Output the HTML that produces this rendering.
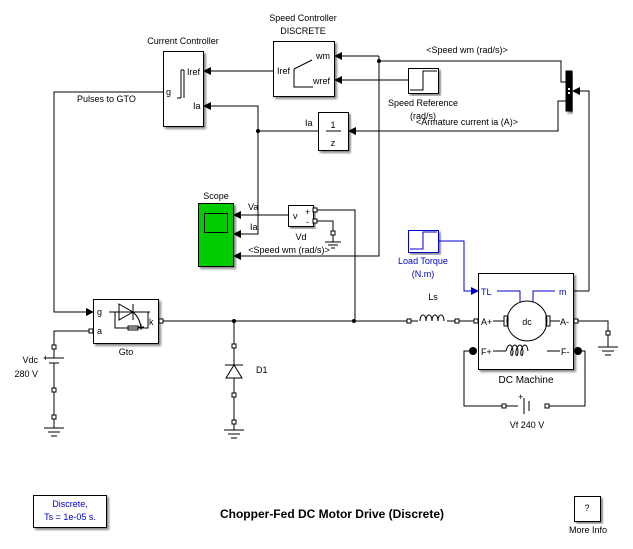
<!DOCTYPE html>
<html><head><meta charset="utf-8"><style>
html,body{margin:0;padding:0;background:#fff;}
svg{display:block;font-family:"Liberation Sans",Arial,sans-serif;font-size:9px;}
</style></head><body>
<svg width="633" height="549" viewBox="0 0 633 549" xmlns="http://www.w3.org/2000/svg">
<defs>
<marker id="a" markerWidth="8" markerHeight="8" refX="7" refY="4" orient="auto" markerUnits="userSpaceOnUse"><path d="M0,0 L8,4 L0,8 z" fill="#000"/></marker>
<marker id="ab" markerWidth="8" markerHeight="8" refX="7" refY="4" orient="auto" markerUnits="userSpaceOnUse"><path d="M0,0 L8,4 L0,8 z" fill="#00c"/></marker>
<filter id="sh"><feDropShadow dx="2" dy="2" stdDeviation="1" flood-color="#888"/></filter>
</defs>
<g fill="none" stroke="#000" stroke-width="1">
<rect x="163.5" y="51.5" width="40" height="75" fill="#fff" filter="url(#sh)"/>
<rect x="273.5" y="41.5" width="61" height="55" fill="#fff" filter="url(#sh)"/>
<rect x="318.5" y="112.5" width="30" height="38" fill="#fff" filter="url(#sh)"/>
<rect x="408.5" y="68.5" width="30" height="25" fill="#fff" filter="url(#sh)"/>
<rect x="566" y="71" width="6" height="40" fill="#000" filter="url(#sh)"/>
<rect x="198.5" y="203.5" width="35" height="63" fill="#00cc00" filter="url(#sh)"/>
<rect x="204.5" y="213.5" width="23" height="19" fill="#00cc00"/>
<rect x="288.5" y="205.5" width="25" height="21" fill="#fff" filter="url(#sh)"/>
<rect x="93.5" y="299.5" width="65" height="44" fill="#fff" filter="url(#sh)"/>
<rect x="478.5" y="273.5" width="95" height="96" fill="#fff" filter="url(#sh)"/>
<rect x="408.5" y="230.5" width="30" height="22" stroke="#00c" fill="#fff" filter="url(#sh)"/>
<rect x="33.5" y="495.5" width="73" height="32" fill="#fff" filter="url(#sh)"/>
<rect x="574.5" y="496.5" width="26" height="25" fill="#fff" filter="url(#sh)"/>
<path d="M181,70 V98 M181,70 H184 M181,98 H177 M184,70 V98" />
<path d="M294,69 L312,60 M294,69 V87 H313"/>
<path d="M326,131 H341"/>
<path d="M410,90 H423 V71 H437"/>
<path d="M410,249 H423 V232 H437" stroke="#00c"/>
<rect x="568" y="88" width="2" height="2" fill="#fff" stroke="none"/><rect x="568" y="92" width="2" height="2" fill="#fff" stroke="none"/>
<path d="M109,312 H150 M119,304 L133,312 L119,320 z M133,304 V320 M115,312 V328 H148 V312 M128,330 h10 v-4 h-10 z M133,312 Q140,318 141,328 M138,327 h6 M141,324 v6"/>
<path d="M273,71 H204" marker-end="url(#a)"/>
<path d="M379,56 H335" marker-end="url(#a)"/>
<path d="M408,80 H335" marker-end="url(#a)"/>
<path d="M318,131 H258 V106 H204" marker-end="url(#a)"/>
<path d="M379,56 V256 H234" marker-end="url(#a)"/>
<path d="M379,61 H561 V82 H566" />
<path d="M566,101 H558 V131 H349" marker-end="url(#a)"/>
<path d="M589,291 V91 H573" marker-end="url(#a)"/>
<path d="M573,291 H589"/>
<path d="M258,131 V234 H234" marker-end="url(#a)"/>
<path d="M288,215 H234" marker-end="url(#a)"/>
<path d="M163,92 H54 V312 H93" marker-end="url(#a)"/>
<path d="M438,241 H464 V291 H478" stroke="#00c" marker-end="url(#ab)"/>
<path d="M161,321 H418 M447,321 H478"/>
<path d="M316,210 H355 V321"/>
<path d="M316,221 H333 V233 M325,242 h16 M328,245 h10 M331,248 h4 M333,233 V242"/>
<path d="M93,331 H54 V358 M44,358 h20 M49,363 h10 M54,363 V428 M44,428 h20 M48,432 h12 M51,436 h6"/>
<path d="M234,321 V365 M225,365 h18 M226,378 h16 L234,365 z M234,378 V430 M224,430 h20 M228,434 h12 M231,438 h6"/>
<path d="M573,321 H608 V347 M598,347 h20 M602,351 h12 M605,355 h6"/>
<path d="M473,351 H464 V406 H518 M545,406 H585 V351 H578 M524,398 V414 M529,401 V411"/>
<path d="M420,321 c0,-8 6,-8 6,0 c0,-8 6,-8 6,0 c0,-8 6,-8 6,0 c0,-8 6,-8 6,0"/>
<path d="M497,291 H520 V302 M533,302 V291 H555" stroke="#00c"/>
<circle cx="527" cy="321" r="20" fill="#fff"/>
<rect x="504" y="316" width="4" height="10"/><rect x="546" y="316" width="4" height="10"/>
<path d="M493,321 H504 M550,321 H560 M493,351 H506 M547,351 H560 M506,351 c2,-8 6,-8 7,0 c0,6 -3,6 -2,0 c2,-8 6,-8 7,0 c0,6 -3,6 -2,0 c2,-8 6,-8 7,0 c0,6 -3,6 -2,0 c2,-8 6,-8 7,0"/>
</g>
<g fill="#fff" stroke="#000" stroke-width="1">
<rect x="159" y="319" width="4" height="4"/><rect x="89" y="329" width="4" height="4"/>
<rect x="313" y="208" width="4" height="4"/><rect x="313" y="219" width="4" height="4"/><rect x="331" y="231" width="4" height="4"/>
<rect x="52" y="345" width="4" height="4"/><rect x="52" y="388" width="4" height="4"/><rect x="52" y="415" width="4" height="4"/>
<rect x="232" y="344" width="4" height="4"/><rect x="232" y="393" width="4" height="4"/><rect x="232" y="420" width="4" height="4"/>
<rect x="407" y="319" width="4" height="4"/><rect x="455" y="319" width="4" height="4"/><rect x="474" y="319" width="4" height="4"/>
<rect x="574" y="319" width="4" height="4"/><rect x="606" y="331" width="4" height="4"/>
<rect x="502" y="404" width="4" height="4"/><rect x="545" y="404" width="4" height="4"/>
</g>
<g fill="#000">
<circle cx="379" cy="61" r="2"/><circle cx="258" cy="131" r="2"/><circle cx="234" cy="321" r="2"/><circle cx="354" cy="321" r="2"/>
<circle cx="473" cy="351" r="4"/><circle cx="578" cy="351" r="4"/>
</g>
<g fill="#000">
<text x="183" y="44" text-anchor="middle">Current Controller</text>
<text x="303" y="21" text-anchor="middle">Speed Controller</text>
<text x="303" y="34" text-anchor="middle">DISCRETE</text>
<text x="187" y="75">Iref</text><text x="193" y="109">Ia</text><text x="166" y="95">g</text>
<text x="277" y="74">Iref</text><text x="316" y="59">wm</text><text x="313" y="84">wref</text>
<text x="333" y="128" text-anchor="middle">1</text><text x="333" y="146" text-anchor="middle">z</text>
<text x="305" y="126">Ia</text>
<text x="467" y="53" text-anchor="middle">&lt;Speed wm (rad/s)&gt;</text>
<text x="423" y="106" text-anchor="middle">Speed Reference</text>
<text x="423" y="119" text-anchor="middle">(rad/s)</text>
<text x="467" y="125" text-anchor="middle">&lt;Armature current ia (A)&gt;</text>
<text x="77" y="102">Pulses  to GTO</text>
<text x="216" y="199" text-anchor="middle">Scope</text>
<text x="248" y="210">Va</text><text x="250" y="230">Ia</text>
<text x="289" y="253" text-anchor="middle">&lt;Speed wm (rad/s)&gt;</text>
<text x="293" y="219">v</text><text x="305" y="215">+</text><text x="306" y="225">-</text>
<text x="301" y="240" text-anchor="middle">Vd</text>
<text x="97" y="315">g</text><text x="97" y="334">a</text><text x="149" y="325">k</text>
<text x="126" y="355" text-anchor="middle">Gto</text>
<text x="38" y="363" text-anchor="end">Vdc</text><text x="38" y="377" text-anchor="end">280 V</text>
<text x="43" y="361">+</text>
<text x="256" y="373">D1</text>
<text x="433" y="300" text-anchor="middle">Ls</text>
<text x="423" y="264" text-anchor="middle" fill="#00c">Load Torque</text>
<text x="423" y="277" text-anchor="middle" fill="#00c">(N.m)</text>
<text x="481" y="295" fill="#00c">TL</text><text x="559" y="295" fill="#00c">m</text>
<text x="481" y="325">A+</text><text x="560" y="325">A-</text>
<text x="481" y="355">F+</text><text x="561" y="355">F-</text>
<text x="527" y="325" text-anchor="middle">dc</text>
<text x="526" y="383" text-anchor="middle" font-size="10">DC Machine</text>
<text x="518" y="400">+</text>
<text x="527" y="428" text-anchor="middle">Vf 240 V</text>
<text x="70" y="507" text-anchor="middle" fill="#00c">Discrete,</text>
<text x="70" y="520" text-anchor="middle" fill="#00c">Ts = 1e-05 s.</text>
<text x="332" y="518" text-anchor="middle" font-size="12" font-weight="bold">Chopper-Fed DC Motor Drive (Discrete)</text>
<text x="587" y="511" text-anchor="middle">?</text>
<text x="588" y="533" text-anchor="middle">More Info</text>
</g>
</svg>
</body></html>
